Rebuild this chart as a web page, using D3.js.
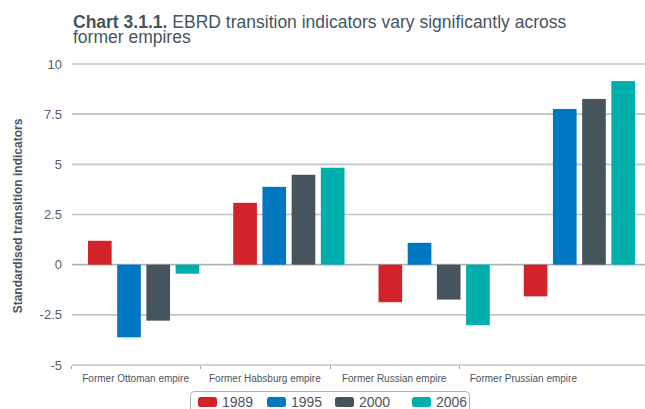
<!DOCTYPE html>
<html>
<head>
<meta charset="utf-8">
<script src="https://cdn.jsdelivr.net/npm/d3@7"></script>
<style>
  body { margin: 0; background: #fff; }
  text { font-family: "Liberation Sans", Arial, sans-serif; fill: #4a5560; }
</style>
</head>
<body>
<svg width="645" height="409"></svg>
<script>
var empires = ["Former Ottoman empire", "Former Habsburg empire", "Former Russian empire", "Former Prussian empire"];
var years = ["1989", "1995", "2000", "2006"];
var v1989 = [1.19, 3.08, -1.87, -1.58];
var v1995 = [-3.62, 3.88, 1.09, 7.76];
var v2000 = [-2.79, 4.48, -1.74, 8.26];
var v2006 = [-0.45, 4.83, -3.02, 9.15];
var yTicks = [-5, -2.5, 0, 2.5, 5, 7.5, 10];
var tickText = ["-5", "-2.5", "0", "2.5", "5", "7.5", "10"];
var colors = ["#d2232a", "#0077c0", "#46545e", "#00aeac"];

var series = [v1989, v1995, v2000, v2006];
var rows = empires.map(function(e, i) {
  return { empire: e, values: years.map(function(y, j) { return { year: y, value: series[j][i] } }) }
});

var svg = d3.select("svg");

var y = d3.scaleLinear().domain([-5, 10]).range([365, 64]);

// labels sit on a narrower band than the bars in the original
var xLabel = d3.scaleBand().domain(empires).range([71, 588]);
var xBar = d3.scaleBand().domain(empires).range([71, 652]).paddingInner(0.234).paddingOuter(0.117);
var xYear = d3.scaleBand().domain(years).range([0, xBar.bandwidth()]).paddingInner(0.19);

// title
var titleFont = "'Liberation Sans Narrow', 'Liberation Sans', sans-serif";
var bold = svg.append("text").attr("x", 73).attr("y", 28)
  .attr("font-size", 17.5).attr("font-weight", "bold").style("fill", "#46545e")
  .attr("font-family", titleFont)
  .text("Chart 3.1.1.");
var boldW = bold.node().getComputedTextLength();
svg.append("text").attr("x", 73 + boldW + 5).attr("y", 28)
  .attr("font-size", 17.5).style("fill", "#46545e")
  .attr("font-family", titleFont)
  .text("EBRD transition indicators vary significantly across");
svg.append("text").attr("x", 73).attr("y", 43)
  .attr("font-size", 17.5).style("fill", "#46545e")
  .attr("font-family", titleFont)
  .text("former empires");

// gridlines
svg.append("g").selectAll("line")
  .data(yTicks)
  .enter().append("line")
  .attr("x1", 72).attr("x2", 645)
  .attr("y1", d => y(d)).attr("y2", d => y(d))
  .attr("stroke", d => d === 0 ? "#aab4ba" : "#bcc5cb")
  .attr("stroke-width", 1.6);

// y tick labels
svg.append("g").selectAll("text")
  .data(yTicks)
  .enter().append("text")
  .attr("x", 62).attr("y", d => y(d) + 4.5)
  .attr("text-anchor", "end")
  .attr("font-size", 13)
  .style("fill", "#55606a")
  .text((d, i) => tickText[i]);

// y axis title
svg.append("text")
  .attr("transform", "translate(22, 216) rotate(-90)")
  .attr("text-anchor", "middle")
  .attr("font-size", 12).attr("font-weight", "bold")
  .text("Standardised transition indicators");

// bars
var groups = svg.append("g").selectAll("g")
  .data(rows)
  .enter().append("g")
  .attr("transform", d => "translate(" + xBar(d.empire) + ",0)");

groups.selectAll("rect")
  .data(d => d.values)
  .enter().append("rect")
  .attr("x", d => xYear(d.year))
  .attr("width", xYear.bandwidth())
  .attr("y", d => y(Math.max(0, d.value)))
  .attr("height", d => Math.abs(y(d.value) - y(0)))
  .attr("fill", (d, i) => colors[i]);

// x axis
var xAxis = svg.append("g").attr("transform", "translate(0,366)");
xAxis.selectAll("line")
  .data(empires)
  .enter().append("line")
  .attr("x1", d => Math.round(xLabel(d)) + 0.5).attr("x2", d => Math.round(xLabel(d)) + 0.5)
  .attr("y1", 0).attr("y2", 3)
  .attr("stroke", "#9aa5ad").attr("stroke-width", 1);
xAxis.selectAll("text")
  .data(empires)
  .enter().append("text")
  .attr("x", d => xLabel(d) + xLabel.bandwidth() / 2)
  .attr("y", 16)
  .attr("text-anchor", "middle")
  .attr("font-size", 10)
  .text(d => d);

// legend
var legend = svg.append("g");
legend.append("rect")
  .attr("x", 190.5).attr("y", 391.5).attr("width", 279).attr("height", 30)
  .attr("rx", 4).attr("fill", "#fff").attr("stroke", "#a9b3ba");
var legendX = [198, 267, 335, 412];
var items = legend.selectAll("g.item")
  .data(years)
  .enter().append("g")
  .attr("transform", (d, i) => "translate(" + legendX[i] + ",397)");
items.append("rect")
  .attr("width", 19).attr("height", 10).attr("rx", 2.5)
  .attr("fill", (d, i) => colors[i]);
items.append("text")
  .attr("x", 24).attr("y", 10)
  .attr("font-size", 14)
  .text(d => d);
</script>
</body>
</html>
